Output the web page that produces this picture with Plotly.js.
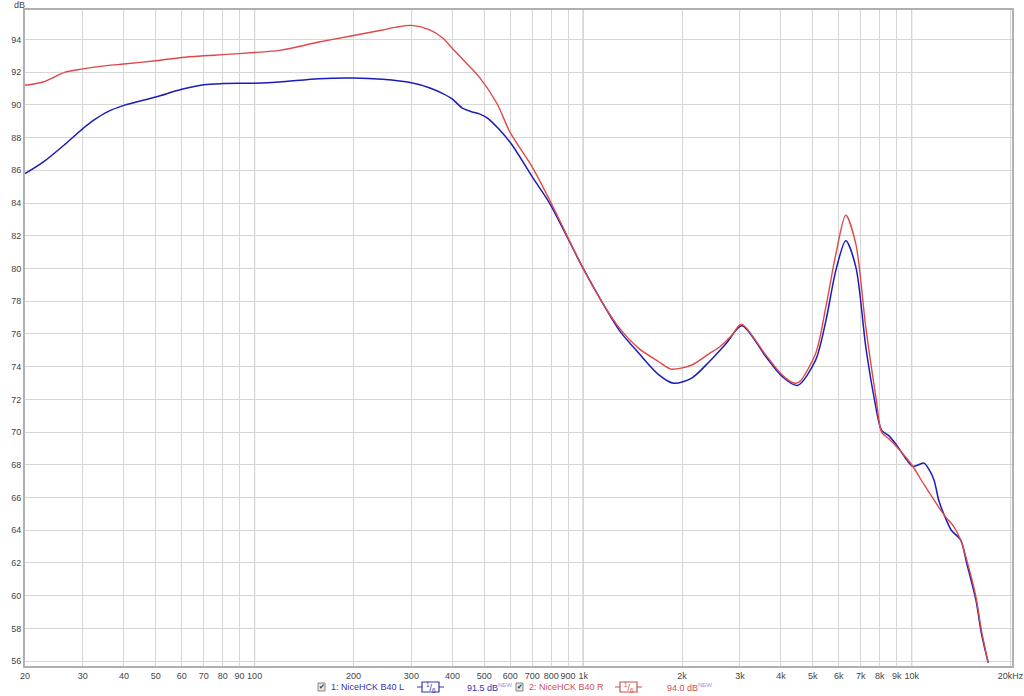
<!DOCTYPE html>
<html>
<head>
<meta charset="utf-8">
<script src="https://cdn.plot.ly/plotly-3.0.1.min.js"></script>
<style>html,body{margin:0;padding:0;background:#fff;}#chart{width:1024px;height:696px;}</style>
</head>
<body>
<div id="chart"></div>
<script>
// ---- data ----
const freqL = [20, 22.7, 26.5, 30, 32.3, 35.5, 40, 50, 60, 70, 80, 100, 119, 157, 200, 245, 300, 340, 373, 400, 429, 455, 483, 515, 600, 700, 790, 1000, 1130, 1290, 1480, 1700, 1890, 2140, 2420, 2720, 3040, 3600, 4030, 4490, 5100, 5480, 5880, 6300, 6760, 7250, 7670, 8100, 8500, 9000, 9660, 10100, 10900, 11300, 11700, 12100, 12700, 13200, 14100, 14700, 15700, 16300, 17100];
const splL  = [85.8, 86.5, 87.6, 88.55, 89.05, 89.56, 89.97, 90.48, 90.95, 91.23, 91.3, 91.33, 91.4, 91.6, 91.64, 91.56, 91.35, 91.05, 90.7, 90.35, 89.8, 89.6, 89.45, 89.15, 87.7, 85.6, 84.0, 80.0, 78.1, 76.2, 74.8, 73.5, 72.98, 73.3, 74.3, 75.4, 76.5, 74.6, 73.4, 72.85, 74.4, 76.8, 79.9, 81.7, 80.1, 75.2, 72.2, 70.1, 69.8, 69.2, 68.3, 67.9, 68.1, 67.7, 67.06, 65.8, 64.7, 64.0, 63.4, 62.0, 59.7, 57.7, 55.9];

const freqR = [20, 22.7, 26.5, 30, 35.5, 40, 50, 60, 70, 80, 100, 119, 157, 200, 245, 270, 300, 340, 373, 400, 429, 483, 546, 600, 700, 790, 1000, 1130, 1290, 1480, 1700, 1850, 2140, 2420, 2600, 2830, 3030, 3600, 4030, 4380, 4540, 5100, 5480, 5880, 6300, 6760, 7250, 7800, 8100, 8500, 9000, 10000, 10900, 12100, 12700, 13400, 14100, 14700, 15700, 16300, 17100];
const splR  = [91.2, 91.4, 92.0, 92.2, 92.4, 92.5, 92.7, 92.9, 93.0, 93.07, 93.2, 93.33, 93.84, 94.24, 94.58, 94.75, 94.86, 94.6, 94.1, 93.45, 92.8, 91.7, 90.1, 88.3, 86.2, 84.2, 80.0, 78.1, 76.35, 75.1, 74.3, 73.85, 74.1, 74.8, 75.2, 75.9, 76.6, 74.7, 73.5, 73.0, 73.05, 74.8, 77.65, 80.9, 83.25, 81.5, 76.4, 72.0, 70.0, 69.6, 69.1, 68.0, 66.8, 65.4, 64.8, 64.25, 63.4, 62.2, 59.9, 57.9, 55.9];

const xTickVals = [20,30,40,50,60,70,80,90,100,200,300,400,500,600,700,800,900,1000,2000,3000,4000,5000,6000,7000,8000,9000,10000,20000];
const xTickText = ["20","30","40","50","60","70","80","90","100","200","300","400","500","600","700","800","900","1k","2k","3k","4k","5k","6k","7k","8k","9k","10k","20kHz"];
const decadeLines = [100, 1000, 10000];

const nameL = "1: NiceHCK B40 L", nameR = "2: NiceHCK B40 R";
const levelL = "91.5 dB", levelR = "94.0 dB";

// ---- layout helpers ----
const W = 1024, H = 696, ML = 25, MR = 12, MT = 10, MB = 30;
const PW = W - ML - MR, PH = H - MT - MB;
const px = x => (x - ML) / PW;
const py = y => (H - MB - y) / PH;

const blue = '#1c1cb8', red = '#e04848';
const font = {family: 'Liberation Sans, Arial, sans-serif', size: 9, color: '#444'};

const traces = [
  {x: freqL, y: splL, type: 'scatter', mode: 'lines', line: {color: blue, width: 1.5, shape: 'spline', smoothing: 0.8}, hoverinfo: 'skip'},
  {x: freqR, y: splR, type: 'scatter', mode: 'lines', line: {color: red, width: 1.4, shape: 'spline', smoothing: 0.8}, hoverinfo: 'skip'}
];

const shapes = decadeLines.map(f => ({type: 'line', xref: 'x', yref: 'paper', x0: f, x1: f, y0: 0, y1: 1, line: {color: '#a8a8a8', width: 1}, layer: 'below'}));
const ann = [
  {xref: 'paper', yref: 'paper', x: px(12), y: py(5), text: 'dB', showarrow: false, font: font, xanchor: 'left', yanchor: 'middle'}
];

function legendItem(xCb, xText, name, boxX0, level, xLevel, col) {
  const yc = 687;
  shapes.push({type: 'rect', xref: 'paper', yref: 'paper', x0: px(xCb), x1: px(xCb + 7), y0: py(yc - 4), y1: py(yc + 4), line: {color: '#888', width: 1}, fillcolor: '#e4e4e4'});
  shapes.push({type: 'line', xref: 'paper', yref: 'paper', x0: px(boxX0 - 5), x1: px(boxX0 + 22), y0: py(yc), y1: py(yc), line: {color: col, width: 1}});
  shapes.push({type: 'rect', xref: 'paper', yref: 'paper', x0: px(boxX0), x1: px(boxX0 + 17), y0: py(yc - 5), y1: py(yc + 5), line: {color: col, width: 1.2}, fillcolor: '#fff'});
  ann.push({xref: 'paper', yref: 'paper', x: px(xCb + 3.5), y: py(yc), text: '✔', showarrow: false, font: {family: 'DejaVu Sans', size: 7, color: '#333'}, xanchor: 'center', yanchor: 'middle'});
  ann.push({xref: 'paper', yref: 'paper', x: px(xText), y: py(yc), text: name, showarrow: false, font: {family: font.family, size: 9, color: col}, xanchor: 'left', yanchor: 'middle'});
  ann.push({xref: 'paper', yref: 'paper', x: px(boxX0 + 8.5), y: py(yc), text: '<sup>1</sup>/<sub>6</sub>', showarrow: false, font: {family: font.family, size: 9, color: col}, xanchor: 'center', yanchor: 'middle'});
  ann.push({xref: 'paper', yref: 'paper', x: px(xLevel), y: py(yc), text: level + '<sup><span style="font-size:6px;color:#9a8fe0">NEW</span></sup>', showarrow: false, font: {family: font.family, size: 9, color: col}, xanchor: 'left', yanchor: 'middle'});
}
legendItem(318, 329, nameL, 422, levelL, 465, '#3434b0');
legendItem(516, 527, nameR, 620, levelR, 665, '#d05050');

const layout = {
  width: W, height: H,
  margin: {l: ML, r: MR, t: MT, b: MB, pad: 0},
  paper_bgcolor: '#fff', plot_bgcolor: '#fff',
  showlegend: false,
  font: font,
  xaxis: {
    type: 'log', range: [Math.log10(20), Math.log10(20200)],
    tickmode: 'array', tickvals: xTickVals, ticktext: xTickText, tickangle: 0,
    showgrid: true, gridcolor: '#d6d6d6', gridwidth: 1,
    showline: true, linecolor: '#b0b0b0', linewidth: 2, mirror: true,
    ticks: '', zeroline: false, tickfont: font, fixedrange: true
  },
  yaxis: {
    range: [55.7, 95.8], tick0: 0, dtick: 2,
    showgrid: true, gridcolor: '#d6d6d6', gridwidth: 1,
    showline: true, linecolor: '#b0b0b0', linewidth: 2, mirror: true,
    ticks: '', zeroline: false, tickfont: font, fixedrange: true
  },
  shapes: shapes,
  annotations: ann
};

Plotly.newPlot('chart', traces, layout, {displayModeBar: false, staticPlot: true});
</script>
</body>
</html>
